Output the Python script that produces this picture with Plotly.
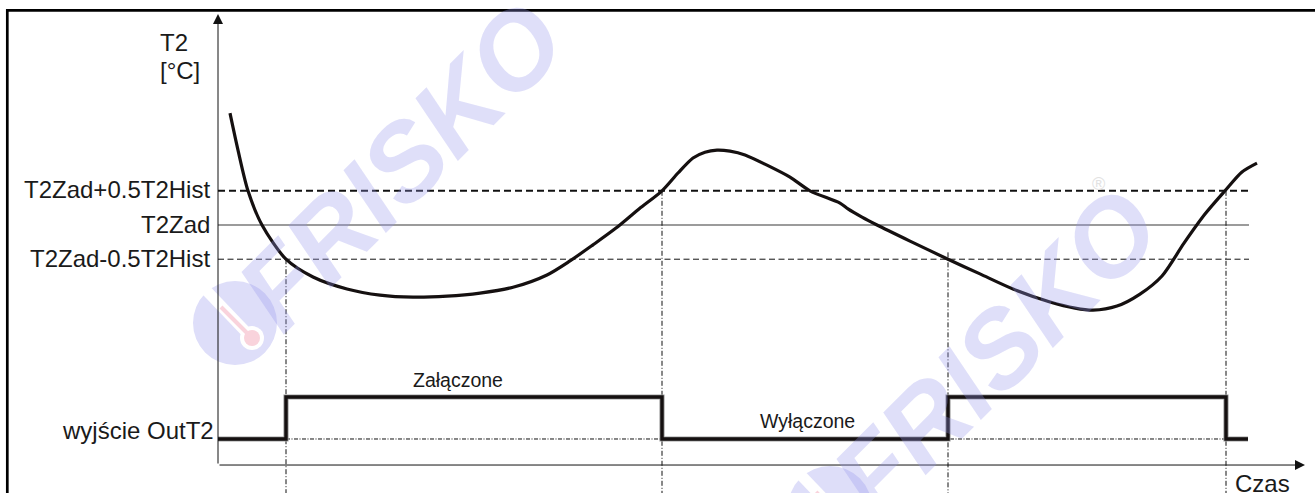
import plotly.graph_objects as go

# ---------------- data ----------------
# time axis in arbitrary units, temperature in °C (T2Zad = 5, T2Hist = 2)
T2ZAD = 5.0
T2HIST = 2.0
level_vals = [T2ZAD + 0.5 * T2HIST, T2ZAD, T2ZAD - 0.5 * T2HIST]
level_labels = ["T2Zad+0.5T2Hist", "T2Zad", "T2Zad-0.5T2Hist"]

curve_t = [1.2, 2.0, 3.0, 4.4, 6.8, 9.5, 12.9, 16.2, 19.5, 22.9, 26.2, 29.5,
           32.9, 35.2, 37.5, 39.8, 42.1, 44.4, 46.0, 47.5, 48.7, 49.9, 51.2,
           52.7, 54.9, 57.2, 59.2, 62.2, 63.0, 64.4, 65.9, 69.2, 73.0, 76.2,
           79.5, 83.2, 85.7, 87.5, 89.9, 92.2, 94.4, 96.6, 98.7, 100.7, 102.4,
           103.9]
curve_T = [8.27, 7.19, 6.0, 5.0, 4.0, 3.48, 3.13, 2.95, 2.89, 2.92, 3.01, 3.18,
           3.54, 3.95, 4.42, 4.91, 5.47, 6.0, 6.52, 6.96, 7.13, 7.19, 7.16,
           7.05, 6.75, 6.40, 6.0, 5.64, 5.47, 5.23, 5.0, 4.53, 4.0, 3.57,
           3.13, 2.75, 2.57, 2.51, 2.63, 2.98, 3.51, 4.47, 5.32, 6.0, 6.55,
           6.81]

# output OutT2 (0 = off, 1 = on)
out_t = [0.0, 6.8, 44.4, 73.0, 100.8, 103.0]
out_state = [0, 1, 0, 1, 0, 0]
switch_t = [6.8, 44.4, 73.0, 100.8]
switch_T = [4.0, 6.0, 4.2, 6.0]
level_end_t = 103.1

state_labels = ["Załączone", "Wyłączone"]
state_label_t = [24.0, 58.9]
state_label_v = [1.40, 0.43]

# ---------------- figure ----------------
W, H = 1315, 493
XR = [-21.8, 109.7]
YR = [-2.836, 11.579]
Y2R = [-1.286, 10.452]
AXIS_T = -2.018          # temperature where the time axis is drawn
Y_TOP = 11.17
X_END = 108.7

FONT = "Liberation Sans, Arial, sans-serif"
fig = go.Figure()

# threshold lines
fig.add_trace(go.Scatter(x=[0, level_end_t], y=[level_vals[0]] * 2, mode="lines",
                         line=dict(color="#111", width=2, dash="7px,4px"), hoverinfo="skip"))
fig.add_trace(go.Scatter(x=[0, level_end_t], y=[level_vals[1]] * 2, mode="lines",
                         line=dict(color="#7a7a7a", width=1.6), hoverinfo="skip"))
fig.add_trace(go.Scatter(x=[0, level_end_t], y=[level_vals[2]] * 2, mode="lines",
                         line=dict(color="#111", width=1, dash="6px,3.5px"), hoverinfo="skip"))

# vertical switching guides
for t, T in zip(switch_t, switch_T):
    fig.add_trace(go.Scatter(x=[t, t], y=[T, YR[0] - 1], mode="lines",
                             line=dict(color="#111", width=1, dash="5px,2px,1px,2px"),
                             hoverinfo="skip"))

# output baseline (dash-dot)
fig.add_trace(go.Scatter(x=[switch_t[0], out_t[-1]], y=[0, 0], yaxis="y2", mode="lines",
                         line=dict(color="#111", width=1, dash="4px,1.5px,1px,1.5px"),
                         hoverinfo="skip"))

# temperature curve
fig.add_trace(go.Scatter(x=curve_t, y=curve_T, mode="lines",
                         line=dict(color="#151010", width=3.2, shape="spline", smoothing=0.8),
                         hoverinfo="skip"))

# output step (gray halo + black core)
fig.add_trace(go.Scatter(x=out_t, y=out_state, yaxis="y2", mode="lines",
                         line=dict(color="#a0a0a0", width=5.2, shape="hv"), hoverinfo="skip"))
fig.add_trace(go.Scatter(x=out_t, y=out_state, yaxis="y2", mode="lines",
                         line=dict(color="#151010", width=3.4, shape="hv"), hoverinfo="skip"))

annotations = []
# axes with arrows
annotations.append(dict(x=0, y=Y_TOP, ax=0, ay=AXIS_T, xref="x", yref="y", axref="x", ayref="y",
                        text="", showarrow=True, arrowhead=2, arrowsize=2, arrowwidth=1,
                        arrowcolor="#111"))
annotations.append(dict(x=X_END, y=AXIS_T, ax=0, ay=AXIS_T, xref="x", yref="y", axref="x", ayref="y",
                        text="", showarrow=True, arrowhead=2, arrowsize=2, arrowwidth=1,
                        arrowcolor="#111"))

# level labels
for v, lab in zip(level_vals, level_labels):
    annotations.append(dict(x=0, y=v, xref="x", yref="y", text=lab, showarrow=False,
                            xanchor="right", yanchor="middle", xshift=-6, yshift=1,
                            font=dict(family=FONT, size=24, color="#1a1a1a")))
annotations.append(dict(x=0, y=0, xref="x", yref="y2", text="wyjście OutT2", showarrow=False,
                        xanchor="right", yanchor="middle", xshift=-2, yshift=8,
                        font=dict(family=FONT, size=24, color="#1a1a1a")))
annotations.append(dict(x=-6.0, y=10.34, xref="x", yref="y", text="T2", showarrow=False,
                        xanchor="left", yanchor="middle",
                        font=dict(family=FONT, size=24, color="#1a1a1a")))
annotations.append(dict(x=-6.0, y=9.53, xref="x", yref="y", text="[°C]", showarrow=False,
                        xanchor="left", yanchor="middle",
                        font=dict(family=FONT, size=24, color="#1a1a1a")))
annotations.append(dict(x=104.4, y=-2.56, xref="x", yref="y", text="Czas", showarrow=False,
                        xanchor="center", yanchor="middle",
                        font=dict(family=FONT, size=24, color="#1a1a1a")))
for t, v, lab in zip(state_label_t, state_label_v, state_labels):
    annotations.append(dict(x=t, y=v, xref="x", yref="y2", text=lab, showarrow=False,
                            xanchor="center", yanchor="middle",
                            font=dict(family=FONT, size=19.5, color="#1a1a1a")))

# watermark (decoration)
wm_centers = [(400, 165), (995, 352)]
wm_discs = [(235, 323), (830, 508)]
for (cx, cy) in wm_centers:
    annotations.append(dict(x=cx / W, y=1 - cy / H, xref="paper", yref="paper", text="FRISKO",
                            showarrow=False, textangle=-45, xanchor="center", yanchor="middle",
                            font=dict(family=FONT, size=108, color="rgba(150,150,235,0.30)",
                                      weight="bold", style="italic")))
annotations.append(dict(x=1107 / W, y=1 - 184 / H, xref="paper", yref="paper", text="®",
                        showarrow=False, font=dict(family=FONT, size=18, color="#e2e2e2")))

shapes = []
def px(x):
    return x / W
def py(y):
    return 1 - y / H

for (cx, cy) in wm_discs:
    shapes.append(dict(type="circle", xref="paper", yref="paper", layer="below",
                       x0=px(cx - 42), x1=px(cx + 42), y0=py(cy + 42), y1=py(cy - 42),
                       fillcolor="#dedef9", line=dict(width=0)))
    shapes.append(dict(type="line", xref="paper", yref="paper", layer="below",
                       x0=px(cx - 32), y0=py(cy - 36), x1=px(cx + 12), y1=py(cy + 10),
                       line=dict(color="white", width=11)))
    shapes.append(dict(type="circle", xref="paper", yref="paper", layer="below",
                       x0=px(cx + 17 - 12), x1=px(cx + 17 + 12), y0=py(cy + 15 + 12), y1=py(cy + 15 - 12),
                       fillcolor="white", line=dict(width=0)))
    shapes.append(dict(type="line", xref="paper", yref="paper", layer="below",
                       x0=px(cx - 14), y0=py(cy - 16), x1=px(cx + 14), y1=py(cy + 12),
                       line=dict(color="#f9d3dc", width=4)))
    shapes.append(dict(type="circle", xref="paper", yref="paper", layer="below",
                       x0=px(cx + 17 - 8), x1=px(cx + 17 + 8), y0=py(cy + 15 + 8), y1=py(cy + 15 - 8),
                       fillcolor="#f9d3dc", line=dict(width=0)))

# outer frame (left and top edges)
shapes.append(dict(type="line", xref="paper", yref="paper", x0=px(7.3), x1=px(7.3), y0=py(9.2), y1=py(H + 5),
                   line=dict(color="black", width=2.7)))
shapes.append(dict(type="line", xref="paper", yref="paper", x0=px(6), x1=px(W + 5), y0=py(10.3), y1=py(10.3),
                   line=dict(color="black", width=2.7)))

fig.update_layout(
    width=W, height=H,
    margin=dict(l=0, r=0, t=0, b=0, pad=0),
    paper_bgcolor="white", plot_bgcolor="white",
    showlegend=False,
    xaxis=dict(range=XR, visible=False, fixedrange=True),
    yaxis=dict(range=YR, visible=False, fixedrange=True),
    yaxis2=dict(range=Y2R, visible=False, overlaying="y", fixedrange=True),
    annotations=annotations,
    shapes=shapes,
)

fig.write_html("out.html", config={"displayModeBar": False},
               post_script="document.body.style.margin='0px';document.body.style.overflow='hidden';")
